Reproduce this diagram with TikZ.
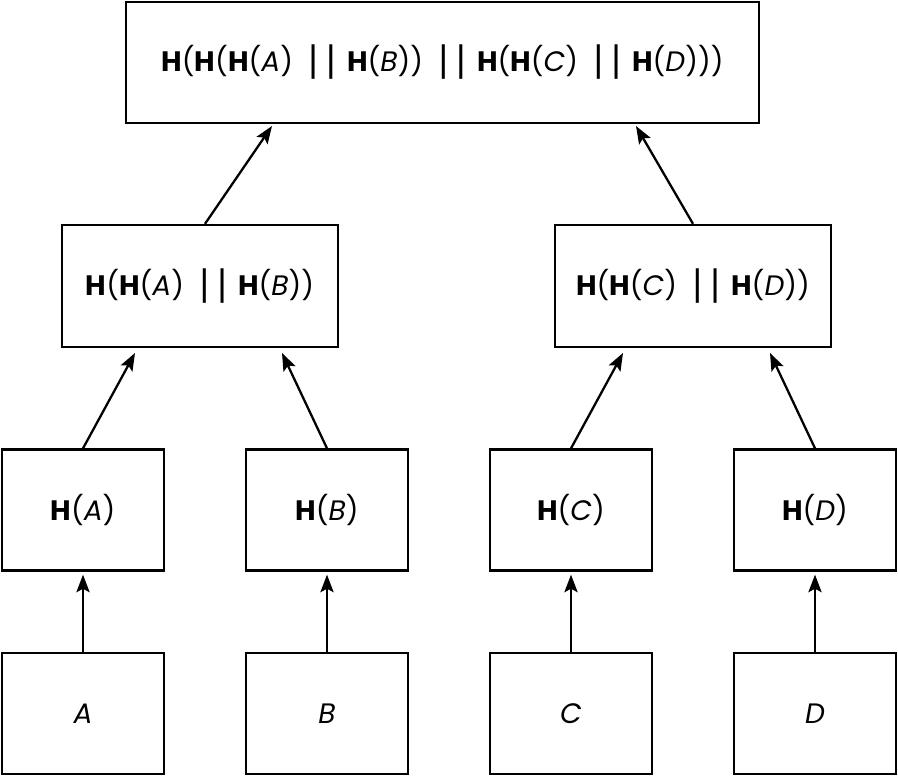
\documentclass[tikz,border=0pt]{standalone}
\usepackage{fontspec}
\setmainfont{Poppins}
\newfontfamily\barfont{Liberation Sans}
\usetikzlibrary{arrows.meta}
\tikzset{
  box/.style={draw, line width=1.3pt, rectangle, inner sep=0pt, font=\fontsize{16}{20}\selectfont},
  wide/.style={box, minimum width=633*0.02cm, minimum height=121*0.02cm},
  mid/.style={box, minimum width=276*0.02cm, minimum height=122*0.02cm},
  leaf/.style={box, minimum width=162*0.02cm, minimum height=121*0.02cm},
  arr/.style={line width=1.3pt, -{Stealth[length=10pt,width=7.5pt,inset=2pt]}}
}
\newcommand{\HH}{\textbf{H}}
\newcommand{\sep}{\hspace{0.55em}{\barfont\fontsize{21}{21}\selectfont|\hspace{0.22em}|}\hspace{0.4em}}
\begin{document}
\begin{tikzpicture}[x=0.02cm,y=-0.02cm]
\useasboundingbox (0,0) rectangle (898,776);
\node[wide] (top) at (442.5,62.5) {\HH(\HH(\HH(\textit{A})\sep\HH(\textit{B}))\sep\HH(\HH(\textit{C})\sep\HH(\textit{D})))};
\node[mid] (ml) at (200,286) {\HH(\HH(\textit{A})\sep\HH(\textit{B}))};
\node[mid] (mr) at (693,286) {\HH(\HH(\textit{C})\sep\HH(\textit{D}))};
\node[leaf] (ha) at (83,510) {\HH(\textit{A})};
\node[leaf] (hb) at (327,510) {\HH(\textit{B})};
\node[leaf] (hc) at (571,510) {\HH(\textit{C})};
\node[leaf] (hd) at (815,510) {\HH(\textit{D})};
\node[leaf] (a) at (83,713.5) {\textit{A}};
\node[leaf] (b) at (327,713.5) {\textit{B}};
\node[leaf] (c) at (571,713.5) {\textit{C}};
\node[leaf] (d) at (815,713.5) {\textit{D}};
\coordinate (tml) at (272,126);
\coordinate (tmr) at (636,126);
\coordinate (tha) at (135,353);
\coordinate (thb) at (282,353);
\coordinate (thc) at (623,353);
\coordinate (thd) at (770,353);
\draw[arr] (ml.north -| 205,0) -- (tml);
\draw[arr] (mr.north -| 693,0) -- (tmr);
\draw[arr] (ha.north) -- (tha);
\draw[arr] (hb.north) -- (thb);
\draw[arr] (hc.north) -- (thc);
\draw[arr] (hd.north) -- (thd);
\draw[arr] (a.north) -- ([yshift=-3*0.02cm]ha.south);
\draw[arr] (b.north) -- ([yshift=-3*0.02cm]hb.south);
\draw[arr] (c.north) -- ([yshift=-3*0.02cm]hc.south);
\draw[arr] (d.north) -- ([yshift=-3*0.02cm]hd.south);
\end{tikzpicture}
\end{document}
